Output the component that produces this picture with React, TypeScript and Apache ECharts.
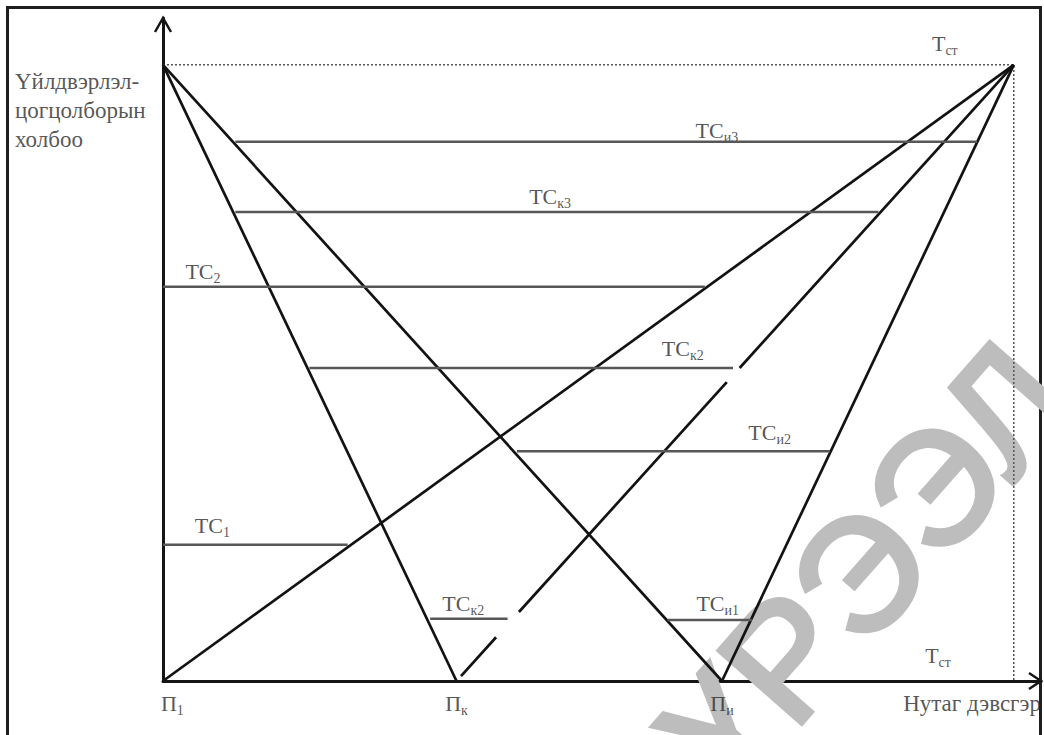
import React, { useEffect, useRef } from "react";
import * as echarts from "echarts";

// ---- data (abstract units: x = territory, y = production-complex link) ----
const X_MAX = 103.2;
const Y_MAX = 107.6;
const apexY = 100;
const apexRightX = 100;
const baseX = [0, 34.5, 65.7]; // П1, Пк, Пи on the x axis
const leftFanTargets = [1, 2]; // lines from the left apex to Пк, Пи
const rightFanTargets = [0, 2]; // unbroken lines from the right apex to П1, Пи
const brokenTarget = 1; // line from the right apex to Пк, drawn in pieces
const brokenRunsY = [
  [0.8, 7.1],
  [11.2, 48.5],
  [50.8, 100],
];

const tcLevels = [87.5, 76.1, 64.0, 50.8, 37.3, 22.1, 10.1, 9.9];
const tcStart = [8.5, 8.5, 0, 17.2, 41.6, 0, 31.4, 59.3];
const tcEnd = [95.7, 84.1, 63.7, 67.0, 78.4, 21.7, 40.5, 69.2];

const labelMain = ["ТС", "ТС", "ТС", "ТС", "ТС", "ТС", "ТС", "ТС", "Т", "Т", "П", "П", "П"];
const labelSub = ["и3", "к3", "2", "к2", "и2", "1", "к2", "и1", "ст", "ст", "1", "к", "и"];
const labelX = [65.1, 45.5, 4.7, 61.1, 71.3, 5.8, 35.3, 65.2, 91.9, 91.1, 1.1, 34.5, 65.7];
const labelY = [89.4, 78.6, 66.4, 53.9, 40.4, 25.3, 12.5, 12.5, 103.4, 4.1, -3.6, -3.6, -3.6];

const axisTitles = ["Үйлдвэрлэл-\nцогцолборын\nхолбоо", "Нутаг дэвсгэр"];
const axisTitleX = [-17.4, 87.0];
const axisTitleY = [99.6, -3.7];
const axisTitleVAlign = ["top", "middle"];
const watermark = "ҮРЭЭЛ";

const SERIF = "Liberation Serif, DejaVu Serif, serif";

export default function App() {
  const ref = useRef<HTMLDivElement>(null);

  useEffect(() => {
    const chart = echarts.init(ref.current!, null, { renderer: "svg" });
    const series: any[] = [];
    const black = { color: "#121212", width: 2.7 };

    series.push({
      type: "line",
      data: [
        [0, apexY],
        [apexRightX, apexY],
        [apexRightX, 0],
      ],
      symbol: "none",
      silent: true,
      lineStyle: { type: [2, 2], color: "#555", width: 1.5 },
    });

    leftFanTargets.forEach((i) => {
      series.push({
        type: "line",
        data: [
          [0, apexY],
          [baseX[i], 0],
        ],
        symbol: "none",
        silent: true,
        lineStyle: black,
      });
    });
    rightFanTargets.forEach((i) => {
      series.push({
        type: "line",
        data: [
          [apexRightX, apexY],
          [baseX[i], 0],
        ],
        symbol: "none",
        silent: true,
        lineStyle: black,
      });
    });
    const bx = baseX[brokenTarget];
    const onLine = (y: number) => bx + ((apexRightX - bx) * y) / apexY;
    brokenRunsY.forEach(([y1, y2]) => {
      series.push({
        type: "line",
        data: [
          [onLine(y1), y1],
          [onLine(y2), y2],
        ],
        symbol: "none",
        silent: true,
        lineStyle: black,
      });
    });

    tcLevels.forEach((y, i) => {
      series.push({
        type: "line",
        data: [
          [tcStart[i], y],
          [tcEnd[i], y],
        ],
        symbol: "none",
        silent: true,
        lineStyle: { color: "#575757", width: 2.5 },
      });
    });

    series.push({
      type: "scatter",
      clip: false,
      symbolSize: 1,
      itemStyle: { color: "rgba(0,0,0,0)" },
      silent: true,
      data: labelX.map((x, i) => [x, labelY[i], i]),
      label: {
        show: true,
        position: "inside",
        formatter: (p: any) => {
          const i = p.data[2];
          return `{m|${labelMain[i]}}{s|${labelSub[i]}}`;
        },
        rich: {
          m: { fontFamily: SERIF, fontSize: 22, color: "#2a2a2a", lineHeight: 28 },
          s: {
            fontFamily: SERIF,
            fontSize: 14,
            color: "#2a2a2a",
            lineHeight: 15,
            verticalAlign: "bottom",
          },
        },
      },
    });

    series.push({
      type: "scatter",
      clip: false,
      symbolSize: 1,
      itemStyle: { color: "rgba(0,0,0,0)" },
      silent: true,
      data: axisTitles.map((_, i) => ({
        value: [axisTitleX[i], axisTitleY[i]],
        label: { verticalAlign: axisTitleVAlign[i] },
      })),
      label: {
        show: true,
        position: "inside",
        align: "left",
        formatter: (p: any) => axisTitles[p.dataIndex],
        fontFamily: SERIF,
        fontSize: 23,
        lineHeight: 29,
        color: "#2a2a2a",
      },
    });

    chart.setOption({
      animation: false,
      backgroundColor: "#ffffff",
      grid: { left: 163, right: 3, top: 18, bottom: 54 },
      xAxis: {
        type: "value",
        min: 0,
        max: X_MAX,
        axisLine: { show: true, lineStyle: { color: "#151515", width: 3 } },
        axisTick: { show: false },
        axisLabel: { show: false },
        splitLine: { show: false },
      },
      yAxis: {
        type: "value",
        min: 0,
        max: Y_MAX,
        axisLine: { show: true, lineStyle: { color: "#151515", width: 3 } },
        axisTick: { show: false },
        axisLabel: { show: false },
        splitLine: { show: false },
      },
      series,
    });

    const xTip = chart.convertToPixel({ gridIndex: 0 }, [X_MAX, 0]) as number[];
    const yTip = chart.convertToPixel({ gridIndex: 0 }, [0, Y_MAX]) as number[];

    chart.setOption({
      graphic: [
        {
          type: "rect",
          silent: true,
          shape: { x: 7.5, y: 7.5, width: 1033, height: 745 },
          style: { fill: "none", stroke: "#1e1e1e", lineWidth: 3 },
          z: 0,
        },
        {
          type: "polyline",
          silent: true,
          shape: {
            points: [
              [xTip[0] - 12, xTip[1] - 8],
              [xTip[0], xTip[1]],
              [xTip[0] - 12, xTip[1] + 8],
            ],
          },
          style: { fill: "none", stroke: "#151515", lineWidth: 2.5 },
          z: 10,
        },
        {
          type: "polyline",
          silent: true,
          shape: {
            points: [
              [yTip[0] - 8, yTip[1] + 14],
              [yTip[0], yTip[1]],
              [yTip[0] + 8, yTip[1] + 14],
            ],
          },
          style: { fill: "none", stroke: "#151515", lineWidth: 2.5 },
          z: 10,
        },
        {
          type: "text",
          silent: true,
          x: 866,
          y: 566,
          rotation: 0.85,
          style: {
            text: watermark,
            font: "160px Liberation Sans, DejaVu Sans, sans-serif",
            fill: "#bdbdbd",
            stroke: "#bdbdbd",
            lineWidth: 5,
            textAlign: "center",
            textVerticalAlign: "middle",
          },
          z: 1,
        },
      ],
    });

    return () => chart.dispose();
  }, []);

  return (
    <div
      ref={ref}
      style={{ position: "absolute", left: 0, top: 0, width: 1044, height: 735, background: "#fff" }}
    />
  );
}
